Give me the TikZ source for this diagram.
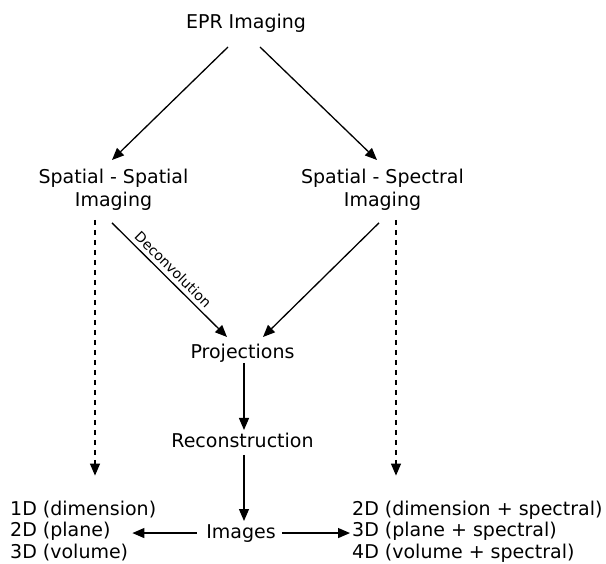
\documentclass[tikz,border=0pt]{standalone}
\usepackage{fontspec}
\setmainfont{DejaVu Sans}
\usetikzlibrary{arrows.meta}

\begin{document}
\begin{tikzpicture}[x=1pt,y=-1pt,
   every node/.style={inner sep=0pt, font=\fontsize{19}{23}\selectfont},
   >={Triangle[length=12pt,width=10pt]},
   arr/.style={black,line width=1.3pt,->},
   dasharr/.style={arr,dash pattern=on 5pt off 5pt}]
  \useasboundingbox (0,0) rectangle (606,564);
   \node[anchor=base] (epr) at (246,29) {EPR Imaging};
   \node[anchor=north, align=center] (spatial) at (113.5,168.6) {Spatial - Spatial\\Imaging};
   \node[anchor=north, align=center] (spectral) at (382.5,168.6) {Spatial - Spectral\\Imaging};
   \node[anchor=base] (proj) at (242.5,359) {Projections};
   \node[anchor=base] (recon) at (242.5,448) {Reconstruction};
   \node[anchor=base] (images) at (241,538) {Images};
   \node[anchor=north west, align=left, font=\fontsize{19}{21.5}\selectfont] (spatialout) at (10,500.6) {1D (dimension)\\2D (plane)\\3D (volume)};
   \node[anchor=north west, align=left, font=\fontsize{19}{21.5}\selectfont] (spectralout) at (352,500.6) {2D (dimension + spectral)\\3D (plane + spectral)\\4D (volume + spectral)};
  % top split
   \draw[arr] ([xshift=-18pt,yshift=-18pt]epr.base) -- ([xshift=-1.5pt,yshift=8.6pt]spatial.north);
   \draw[arr] ([xshift=14pt,yshift=-18pt]epr.base) -- ([xshift=-5.5pt,yshift=8.6pt]spectral.north);
  % into projections
   \draw[arr] ([xshift=-1.5pt,yshift=-12.5pt]spatial.south) -- ([xshift=-15.5pt,yshift=22pt]proj.base)
        node[pos=0.47, sloped, above=4pt, font=\fontsize{14}{16}\selectfont] (deconv) {Deconvolution};
   \draw[arr] ([xshift=-3.5pt,yshift=-12.5pt]spectral.south) -- ([xshift=20.5pt,yshift=22pt]proj.base);
   \draw[arr] ([xshift=1.5pt,yshift=-4pt]proj.base) -- ([xshift=1.5pt,yshift=18pt]recon.base);
   \draw[arr] ([xshift=1.5pt,yshift=-7pt]recon.base) -- ([xshift=3pt,yshift=17pt]images.base);
  % outputs
   \draw[arr, shorten >=-24pt] ([xshift=-9.3pt]images.west) -- (images.west -| spatialout.east);
   \draw[arr, shorten >=2pt] ([xshift=6pt]images.east) -- (images.east -| spectralout.west);
   \draw[dasharr, shorten >=25pt] ([xshift=-18.5pt,yshift=-9.5pt]spatial.south) -- ([xshift=-18.5pt]spatial.south |- spatialout.north);
   \draw[dasharr, shorten >=25pt] ([xshift=13.5pt,yshift=-9.5pt]spectral.south) -- ([xshift=13.5pt]spectral.south |- spectralout.north);
\end{tikzpicture}
\end{document}
